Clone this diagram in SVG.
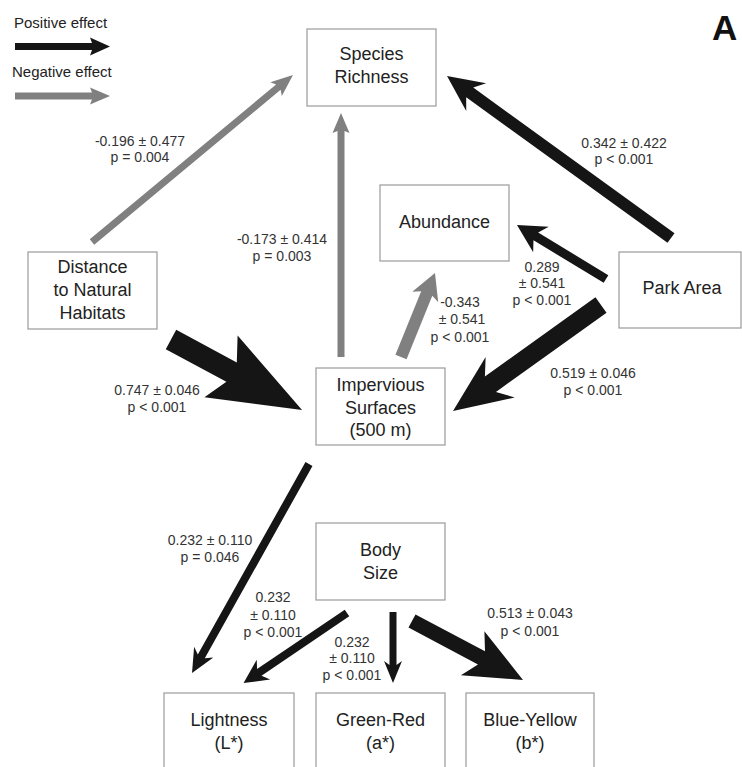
<svg xmlns="http://www.w3.org/2000/svg" width="742" height="767" viewBox="0 0 742 767">
<style>
.box{fill:#fff;stroke:#9a9a9a;stroke-width:1.2}
.nl{font-family:"Liberation Sans",Arial,sans-serif;font-size:18px;fill:#222;text-anchor:middle}
.el{font-family:"Liberation Sans",Arial,sans-serif;font-size:14px;fill:#333;text-anchor:middle}
.lg{font-family:"Liberation Sans",Arial,sans-serif;font-size:15px;fill:#222}
.pos{fill:#151515}
.neg{fill:#808080}
</style>
<rect width="742" height="767" fill="#fff"/>
<g id="legend">
<text class="lg" x="14" y="28">Positive effect</text>
<polygon class="pos" points="15,43 92,43 90,37.5 110,46.5 90,55.5 92,50 15,50"/>
<text class="lg" x="12" y="77">Negative effect</text>
<polygon class="neg" points="15,92.5 92,92.5 90,87.5 110,96 90,104.5 92,99.5 15,99.5"/>
<text x="712" y="40" font-family="Liberation Sans,Arial,sans-serif" font-size="35" font-weight="bold" fill="#111">A</text>
</g>
<g id="connectors">
<polygon class="neg" transform="translate(92,242) rotate(-39.72)" points="0,-3.5 242.3,-3.5 239.3,-9 261.3,0 239.3,9 242.3,3.5 0,3.5"/>
<polygon class="neg" transform="translate(341,357) rotate(-90)" points="0,-3.5 226,-3.5 224,-8.5 244,0 224,8.5 226,3.5 0,3.5"/>
<polygon class="pos" transform="translate(671,238) rotate(-144.13)" points="0,-6 248.4,-6 240.4,-17 276.4,0 240.4,17 248.4,6 0,6"/>
<polygon class="pos" transform="translate(606,279) rotate(-148.75)" points="0,-4.5 82.1,-4.5 76.1,-15 104.1,0 76.1,15 82.1,4.5 0,4.5"/>
<polygon class="neg" transform="translate(401,357) rotate(-67.96)" points="0,-6 68.6,-6 64.6,-14 90.6,0 64.6,14 68.6,6 0,6"/>
<polygon class="pos" transform="translate(601,305) rotate(144.39)" points="0,-9.5 136,-9.5 124,-25 182,0 124,25 136,9.5 0,9.5"/>
<polygon class="pos" transform="translate(171,339.5) rotate(28.28)" points="0,-11 68.8,-11 56.8,-35 148.8,0 56.8,35 68.8,11 0,11"/>
<polygon class="pos" transform="translate(309,464) rotate(119.24)" points="0,-4 220.5,-4 215.5,-11 239.5,0 215.5,11 220.5,4 0,4"/>
<polygon class="pos" transform="translate(347,613) rotate(145.9)" points="0,-4 105.9,-4 100.9,-12 124.9,0 100.9,12 105.9,4 0,4"/>
<polygon class="pos" transform="translate(393,612) rotate(90)" points="0,-3.5 53,-3.5 49,-9 71,0 49,9 53,3.5 0,3.5"/>
<polygon class="pos" transform="translate(412,621) rotate(27.99)" points="0,-7.5 78.7,-7.5 68.7,-25 125.7,0 68.7,25 78.7,7.5 0,7.5"/>
</g>
<g id="edge-labels">
<text class="el" x="140" y="146">-0.196 ± 0.477</text>
<text class="el" x="140" y="162">p = 0.004</text>
<text class="el" x="624" y="148">0.342 ± 0.422</text>
<text class="el" x="624" y="164">p &lt; 0.001</text>
<text class="el" x="282" y="244">-0.173 ± 0.414</text>
<text class="el" x="282" y="261">p = 0.003</text>
<text class="el" x="542" y="272">0.289</text>
<text class="el" x="542" y="288">± 0.541</text>
<text class="el" x="542" y="305">p &lt; 0.001</text>
<text class="el" x="460" y="307">-0.343</text>
<text class="el" x="462" y="324">± 0.541</text>
<text class="el" x="460" y="342">p &lt; 0.001</text>
<text class="el" x="593" y="378">0.519 ± 0.046</text>
<text class="el" x="593" y="395">p &lt; 0.001</text>
<text class="el" x="157" y="395">0.747 ± 0.046</text>
<text class="el" x="157" y="412">p &lt; 0.001</text>
<text class="el" x="210" y="545">0.232 ± 0.110</text>
<text class="el" x="210" y="562">p = 0.046</text>
<text class="el" x="273" y="602">0.232</text>
<text class="el" x="273" y="620">± 0.110</text>
<text class="el" x="273" y="637">p &lt; 0.001</text>
<text class="el" x="352" y="647">0.232</text>
<text class="el" x="352" y="663">± 0.110</text>
<text class="el" x="352" y="680">p &lt; 0.001</text>
<text class="el" x="530" y="618">0.513 ± 0.043</text>
<text class="el" x="530" y="636">p &lt; 0.001</text>
</g>
<g id="species-richness">
<rect class="box" x="307" y="29" width="129" height="77"/>
<text class="nl" x="371.5" y="60">Species</text>
<text class="nl" x="371.5" y="83">Richness</text>
</g>
<g id="abundance">
<rect class="box" x="380" y="185" width="129" height="76"/>
<text class="nl" x="444.5" y="228">Abundance</text>
</g>
<g id="park-area">
<rect class="box" x="619" y="252" width="122" height="76"/>
<text class="nl" x="682" y="294">Park Area</text>
</g>
<g id="distance">
<rect class="box" x="28" y="252" width="129" height="77"/>
<text class="nl" x="92.5" y="273">Distance</text>
<text class="nl" x="92.5" y="296">to Natural</text>
<text class="nl" x="92.5" y="319">Habitats</text>
</g>
<g id="impervious">
<rect class="box" x="316" y="368" width="129" height="77"/>
<text class="nl" x="380.5" y="391">Impervious</text>
<text class="nl" x="380.5" y="414">Surfaces</text>
<text class="nl" x="380.5" y="436">(500 m)</text>
</g>
<g id="body-size">
<rect class="box" x="316" y="523" width="129" height="77"/>
<text class="nl" x="380.5" y="556">Body</text>
<text class="nl" x="380.5" y="579">Size</text>
</g>
<g id="lightness">
<rect class="box" x="164" y="693" width="130" height="80"/>
<text class="nl" x="229" y="726">Lightness</text>
<text class="nl" x="229" y="749">(L*)</text>
</g>
<g id="green-red">
<rect class="box" x="316" y="693" width="129" height="80"/>
<text class="nl" x="380.5" y="726">Green-Red</text>
<text class="nl" x="380.5" y="749">(a*)</text>
</g>
<g id="blue-yellow">
<rect class="box" x="466" y="693" width="128" height="80"/>
<text class="nl" x="530" y="726">Blue-Yellow</text>
<text class="nl" x="530" y="749">(b*)</text>
</g>
</svg>
